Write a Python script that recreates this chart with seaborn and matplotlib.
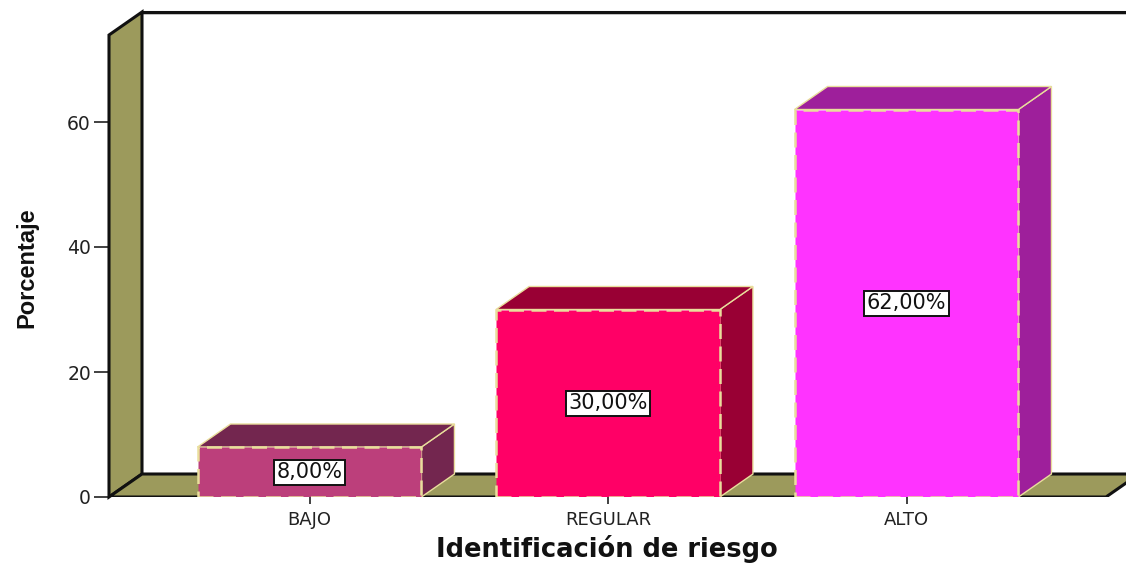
import matplotlib
matplotlib.use("Agg")
import matplotlib.pyplot as plt
from matplotlib.patches import Polygon
import seaborn as sns
import pandas as pd

categories = ["BAJO", "REGULAR", "ALTO"]
values = [8.0, 30.0, 62.0]
value_labels = ["8,00%", "30,00%", "62,00%"]
y_ticks = [0, 20, 40, 60]

front_colors = ["#BC3F7B", "#FF0066", "#FF33FF"]
side_colors = ["#73264F", "#990034", "#9E1F9B"]
wall_color = "#9C9A5C"
edge_color = "#E9DE9C"

sns.set_theme(style="white")
plt.rcParams["font.family"] = ["DejaVu Sans"]

W, H = 1126, 564
fig = plt.figure(figsize=(W / 100, H / 100), dpi=100)
px_left, px_right, px_top, px_bottom = 109, 1126, 13, 497
ax = fig.add_axes([px_left / W, (H - px_bottom) / H,
                   (px_right - px_left) / W, (px_bottom - px_top) / H])

ppu_y = 6.25
ppu_x = 298.5
x0 = (px_left - 309.5) / ppu_x
x1 = (px_right - 309.5) / ppu_x
ytop = (px_bottom - px_top) / ppu_y
dx = 33 / ppu_x
dy = 23 / ppu_y
wall_top = (px_bottom - 35) / ppu_y
floor_end = (1106 - 309.5) / ppu_x

df = pd.DataFrame({"cat": categories, "val": values})
sns.barplot(data=df, x="cat", y="val", hue="cat", palette=front_colors,
            width=0.75, legend=False, ax=ax, zorder=5, saturation=1)
bar_patches = list(ax.patches)

ax.set_xlim(x0, x1)
ax.set_ylim(0, ytop)

# left wall
ax.add_patch(Polygon([(x0, 0), (x0, wall_top), (x0 + dx, wall_top + dy), (x0 + dx, dy)],
                     closed=True, facecolor=wall_color, edgecolor="#111111", lw=2.2,
                     zorder=1, clip_on=False))
# floor
ax.add_patch(Polygon([(x0, 0), (floor_end, 0), (floor_end + dx, dy), (x0 + dx, dy)],
                     closed=True, facecolor=wall_color, edgecolor="#111111", lw=2.2,
                     zorder=1, clip_on=True))
# back top line
ax.plot([x0 + dx, x1], [wall_top + dy, wall_top + dy], color="#111111", lw=2.2,
        zorder=1, clip_on=False, solid_capstyle="butt")
ax.plot([x0 + dx, x1], [wall_top + dy - 0.35, wall_top + dy - 0.35], color="#BBBBBB", lw=1.2,
        zorder=0.9, clip_on=False)

for p in bar_patches:
    p.set_edgecolor(edge_color)
    p.set_linewidth(1.8)
    p.set_linestyle((0, (6, 3)))
for i, (v, sc) in enumerate(zip(values, side_colors)):
    xl, xr = i - 0.375, i + 0.375
    ax.add_patch(Polygon([(xr, 0), (xr + dx, dy), (xr + dx, v + dy), (xr, v)], closed=True,
                         facecolor=sc, edgecolor=edge_color, lw=1.0, zorder=4))
    ax.add_patch(Polygon([(xl, v), (xl + dx, v + dy), (xr + dx, v + dy), (xr, v)], closed=True,
                         facecolor=sc, edgecolor=edge_color, lw=1.0, zorder=4))
    ax.text(i, v / 2, value_labels[i], ha="center", va="center", fontsize=15,
            color="#111111", zorder=8,
            bbox=dict(boxstyle="square,pad=0.12", facecolor="white", edgecolor="#111111", lw=1.4))

for s in ax.spines.values():
    s.set_visible(False)
ax.set_yticks(y_ticks)
ax.set_yticklabels([str(t) for t in y_ticks])
ax.tick_params(axis="y", length=11, width=1.3, color="#333333", labelsize=13.5, labelcolor="#222222",
               left=True, pad=2)
ax.tick_params(axis="x", length=5, width=1.3, color="#333333", labelsize=13, labelcolor="#222222",
               bottom=True, pad=5)
ax.set_xlabel("Identificación de riesgo", fontsize=18.5, fontweight="bold", color="#111111")
ax.xaxis.set_label_coords((607 - px_left) / (px_right - px_left), -(549 - px_bottom) / (px_bottom - px_top))
ax.xaxis.label.set_va("center")
ax.set_ylabel("Porcentaje", fontsize=17, fontweight="bold", color="#111111",
              family=["Liberation Sans", "DejaVu Sans"])
ax.yaxis.set_label_coords(-(109 - 27) / (px_right - px_left), (px_bottom - 268) / (px_bottom - px_top))
ax.yaxis.label.set_va("center")
ax.grid(False)
ax.set_facecolor("white")

fig.savefig("out.png", dpi=100)
